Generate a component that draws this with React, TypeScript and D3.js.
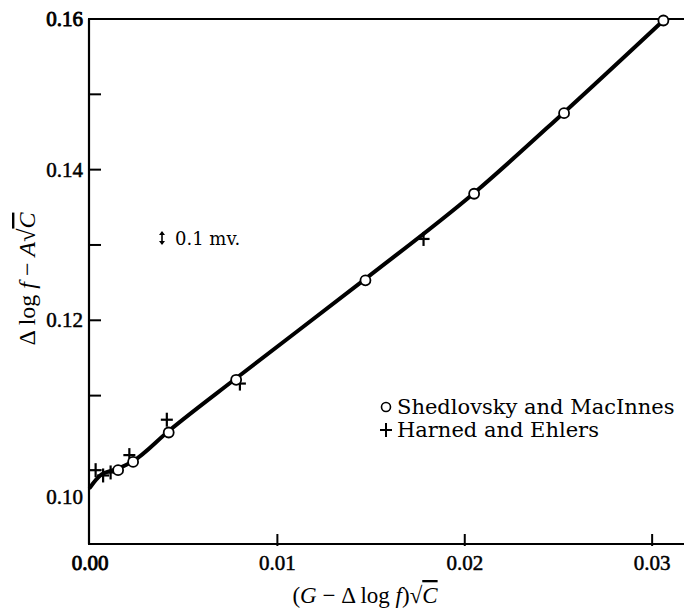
import React from "react";
import * as d3 from "d3";

const shedX = [0.0015, 0.0023, 0.0042, 0.0078, 0.0147, 0.0205, 0.0253, 0.0306];
const shedY = [0.1001, 0.1012, 0.1051, 0.1121, 0.1253, 0.1368, 0.1475, 0.1598];

const harnX = [0.0003, 0.0007, 0.0011, 0.0021, 0.0041, 0.0080, 0.0178];
const harnY = [0.1001, 0.0994, 0.0998, 0.1021, 0.1068, 0.1116, 0.1308];

const curveX = [0, 0.0006, 0.0015, 0.0023, 0.0042, 0.0078, 0.0147, 0.0205, 0.0253, 0.0306];
const curveY = [0.0978, 0.0995, 0.1003, 0.1013, 0.1053, 0.1123, 0.1255, 0.1369, 0.1476, 0.1598];

const xTicks = [0.01, 0.02, 0.03];
const xTickLabels = ["0.00", "0.01", "0.02", "0.03"];
const xLabelVals = [0, 0.01, 0.02, 0.03];
const yMinorTicks = [0.11, 0.12, 0.13, 0.14, 0.15];
const yLabelVals = [0.10, 0.12, 0.14, 0.16];
const yTickLabels = ["0.10", "0.12", "0.14", "0.16"];

const legendLabels = ["Shedlovsky and MacInnes", "Harned and Ehlers"];

const W = 684;
const H = 610;

export default function App() {
  const x = d3.scaleLinear().domain([0, 0.0317]).range([90, 684]);
  const y = d3.scaleLinear().domain([0.0903, 0.16]).range([544, 19]);
  const line = d3
    .line<number>()
    .x((_, i) => x(curveX[i]))
    .y((d) => y(d))
    .curve(d3.curveMonotoneX);

  const serif = "'Liberation Serif', 'DejaVu Serif', serif";
  const legendFont = "'DejaVu Serif', serif";

  return (
    <svg
      width={W}
      height={H}
      style={{ position: "absolute", left: 0, top: 0, background: "#fff" }}
      fontFamily={serif}
    >
      <rect width={W} height={H} fill="#fff" />
      {/* frame */}
      <line x1={x(0) - 1} x2={x(0) - 1} y1={y(0.16)} y2={y(0.0903)} stroke="#000" strokeWidth={2.2} />
      <line x1={x(0) - 2} x2={684} y1={y(0.16)} y2={y(0.16)} stroke="#000" strokeWidth={2} />
      <line x1={x(0) - 2} x2={684} y1={y(0.0903)} y2={y(0.0903)} stroke="#000" strokeWidth={2.2} />
      {/* y ticks */}
      {yMinorTicks.map((v) => (
        <line key={v} x1={x(0)} x2={x(0) + 11} y1={y(v)} y2={y(v)} stroke="#000" strokeWidth={2} />
      ))}
      {yLabelVals.map((v, i) => (
        <text
          key={v}
          x={x(0) - 7}
          y={y(v) + (v === 0.1 ? 26 : 0)}
          textAnchor="end"
          dominantBaseline="central"
          fontSize={21}
          stroke="#000"
          strokeWidth={v === 0.16 ? 0.9 : 0.5}
        >
          {yTickLabels[i]}
        </text>
      ))}
      {/* x ticks */}
      {xTicks.map((v) => (
        <line key={v} x1={x(v)} x2={x(v)} y1={y(0.0903) + 2} y2={y(0.0903) - 10} stroke="#000" strokeWidth={2} />
      ))}
      {xLabelVals.map((v, i) => (
        <text
          key={v}
          x={x(v)}
          y={563}
          textAnchor="middle"
          dominantBaseline="central"
          fontSize={21}
          stroke="#000"
          strokeWidth={v === 0 ? 0.9 : 0.5}
        >
          {xTickLabels[i]}
        </text>
      ))}
      {/* curve */}
      <path d={line(curveY) || ""} fill="none" stroke="#000" strokeWidth={4} strokeLinecap="round" strokeLinejoin="round" />
      {/* Harned plus markers */}
      {harnX.map((v, i) => (
        <g key={"h" + i} transform={`translate(${x(v)},${y(harnY[i])})`}>
          <line x1={-6} x2={6} y1={0} y2={0} stroke="#000" strokeWidth={2.2} />
          <line x1={0} x2={0} y1={-7} y2={7} stroke="#000" strokeWidth={2.2} />
        </g>
      ))}
      {/* Shedlovsky circles */}
      {shedX.map((v, i) => (
        <circle key={"s" + i} cx={x(v)} cy={y(shedY[i])} r={5} fill="#fff" stroke="#000" strokeWidth={1.8} />
      ))}
      {/* legend */}
      <circle cx={386} cy={407} r={4.5} fill="#fff" stroke="#000" strokeWidth={1.6} />
      <text x={397} y={407} dominantBaseline="central" fontSize={21} fontFamily={legendFont}>
        {legendLabels[0]}
      </text>
      <g transform="translate(386,430)">
        <line x1={-6} x2={6} y1={0} y2={0} stroke="#000" strokeWidth={2} />
        <line x1={0} x2={0} y1={-7} y2={7} stroke="#000" strokeWidth={2} />
      </g>
      <text x={397} y={430} dominantBaseline="central" fontSize={21} fontFamily={legendFont}>
        {legendLabels[1]}
      </text>
      {/* 0.1 mv annotation */}
      <g transform="translate(162,238)">
        <line x1={0} x2={0} y1={-6} y2={6} stroke="#000" strokeWidth={1.6} />
        <path d="M-3,-3 L0,-7 L3,-3 Z M-3,3 L0,7 L3,3 Z" fill="#000" />
      </g>
      <text x={175} y={238} dominantBaseline="central" fontSize={18} fontFamily={legendFont}>
        0.1 mv.
      </text>
      {/* axis labels */}
      <text x={365} y={595} textAnchor="middle" dominantBaseline="central" fontSize={23}>
        (<tspan fontStyle="italic">G</tspan> − Δ log <tspan fontStyle="italic">f</tspan>)√
        <tspan fontStyle="italic" textDecoration="overline">C</tspan>
      </text>
      <text
        transform={`translate(27,279) rotate(-90)`}
        textAnchor="middle"
        dominantBaseline="central"
        fontSize={24}
      >
        Δ log <tspan fontStyle="italic">f</tspan> − <tspan fontStyle="italic">A</tspan>√
        <tspan fontStyle="italic" textDecoration="overline">C</tspan>
      </text>
    </svg>
  );
}
